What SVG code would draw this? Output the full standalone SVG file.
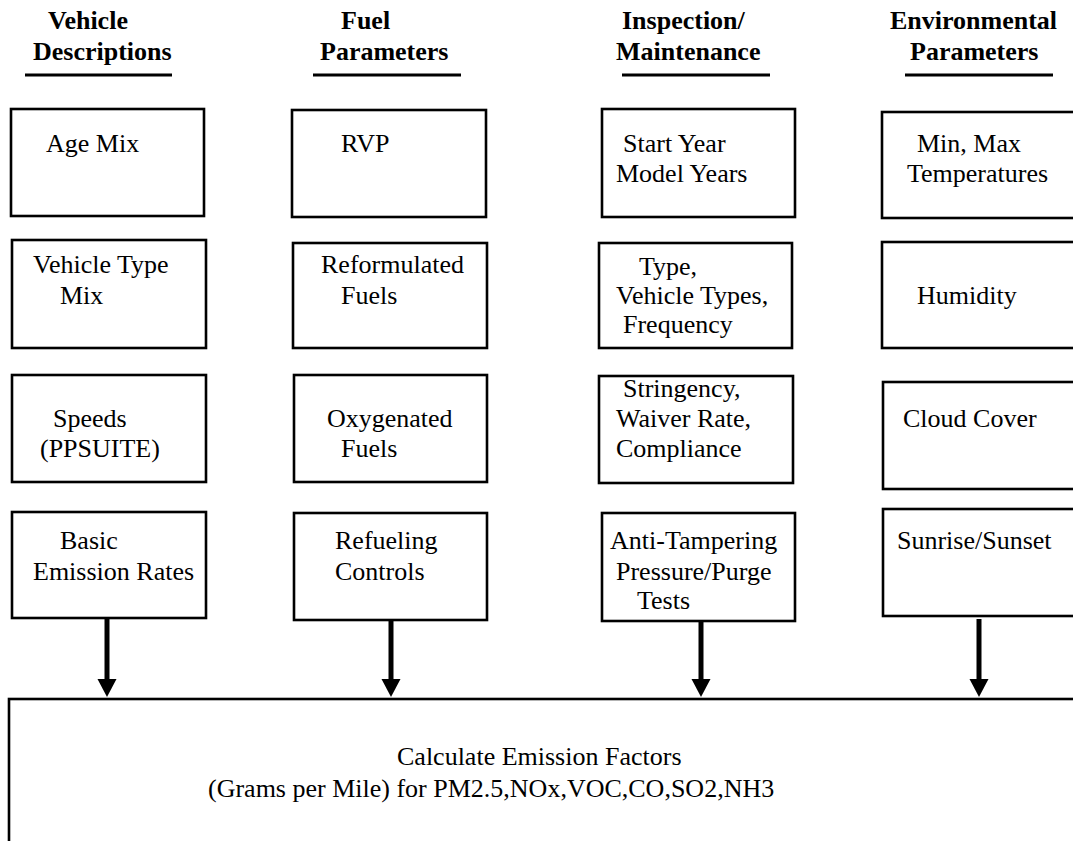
<svg xmlns="http://www.w3.org/2000/svg" width="1073" height="841" viewBox="0 0 1073 841">
<style>
text{font-family:"Liberation Serif","Times New Roman",serif;fill:#000}
.h{font-size:26px;font-weight:bold}
.t{font-size:26px}
.b{font-size:26px}
.box{fill:#fff;stroke:#000;stroke-width:2.6}
.ul{stroke:#000;stroke-width:3}
.arr{stroke:#000;stroke-width:5;fill:none}
</style>
<defs>
<marker id="ah" markerUnits="userSpaceOnUse" markerWidth="20" markerHeight="20" refX="0" refY="10" orient="auto" viewBox="0 0 20 20">
<path d="M0,0.5 L18,10 L0,19.5 z" fill="#000"/>
</marker>
</defs>
<rect width="1073" height="841" fill="#fff"/>

<g id="headers">
<text class="h" x="48" y="29">Vehicle</text>
<text class="h" x="33" y="60">Descriptions</text>
<line class="ul" x1="25" y1="75" x2="172" y2="75"/>
<text class="h" x="341" y="29">Fuel</text>
<text class="h" x="320" y="60">Parameters</text>
<line class="ul" x1="313" y1="75" x2="461" y2="75"/>
<text class="h" x="622" y="29">Inspection/</text>
<text class="h" x="616" y="60">Maintenance</text>
<line class="ul" x1="622" y1="75" x2="770" y2="75"/>
<text class="h" x="890" y="29">Environmental</text>
<text class="h" x="910" y="60">Parameters</text>
<line class="ul" x1="905" y1="75" x2="1053" y2="75"/>
</g>

<g id="age-mix"><rect class="box" x="11" y="109" width="193" height="107"/><text class="t" x="46" y="152">Age Mix</text></g>
<g id="rvp"><rect class="box" x="292" y="110" width="194" height="107"/><text class="t" x="341" y="152">RVP</text></g>
<g id="start-year"><rect class="box" x="602" y="109" width="193" height="108"/><text class="t" x="623" y="152">Start Year</text><text class="t" x="616" y="182">Model Years</text></g>
<g id="temperatures"><rect class="box" x="882" y="112" width="210" height="106"/><text class="t" x="917" y="152">Min, Max</text><text class="t" x="907" y="182">Temperatures</text></g>

<g id="vehicle-type-mix"><rect class="box" x="12" y="240" width="194" height="108"/><text class="t" x="33" y="273">Vehicle Type</text><text class="t" x="60" y="304">Mix</text></g>
<g id="reformulated-fuels"><rect class="box" x="293" y="243" width="194" height="105"/><text class="t" x="321" y="273">Reformulated</text><text class="t" x="341" y="304">Fuels</text></g>
<g id="im-type"><rect class="box" x="599" y="243" width="193" height="105"/><text class="t" x="639" y="275">Type,</text><text class="t" x="616" y="304">Vehicle Types,</text><text class="t" x="623" y="333">Frequency</text></g>
<g id="humidity"><rect class="box" x="882" y="242" width="210" height="106"/><text class="t" x="917" y="304">Humidity</text></g>

<g id="speeds"><rect class="box" x="12" y="375" width="194" height="107"/><text class="t" x="53" y="427">Speeds</text><text class="t" x="40" y="457">(PPSUITE)</text></g>
<g id="oxygenated-fuels"><rect class="box" x="294" y="375" width="193" height="107"/><text class="t" x="327" y="427">Oxygenated</text><text class="t" x="341" y="457">Fuels</text></g>
<g id="stringency"><rect class="box" x="599" y="376" width="194" height="107"/><text class="t" x="623" y="397">Stringency,</text><text class="t" x="616" y="427">Waiver Rate,</text><text class="t" x="616" y="457">Compliance</text></g>
<g id="cloud-cover"><rect class="box" x="883" y="382" width="210" height="107"/><text class="t" x="903" y="427">Cloud Cover</text></g>

<g id="basic-emission-rates"><rect class="box" x="12" y="512" width="194" height="106"/><text class="t" x="60" y="549">Basic</text><text class="t" x="33" y="580">Emission Rates</text></g>
<g id="refueling-controls"><rect class="box" x="294" y="513" width="193" height="107"/><text class="t" x="335" y="549">Refueling</text><text class="t" x="335" y="580">Controls</text></g>
<g id="anti-tampering"><rect class="box" x="602" y="513" width="193" height="108"/><text class="t" x="610" y="549">Anti-Tampering</text><text class="t" x="616" y="580">Pressure/Purge</text><text class="t" x="637" y="609">Tests</text></g>
<g id="sunrise-sunset"><rect class="box" x="883" y="509" width="210" height="107"/><text class="t" x="897" y="549">Sunrise/Sunset</text></g>

<g id="calculate"><rect class="box" x="9" y="699" width="1090" height="160"/>
<text class="b" x="397" y="765">Calculate Emission Factors</text>
<text class="b" x="208" y="797">(Grams per Mile) for PM2.5,NOx,VOC,CO,SO2,NH3</text></g>

<g id="connectors">
<line class="arr" x1="107" y1="617" x2="107" y2="679" marker-end="url(#ah)"/>
<line class="arr" x1="391" y1="620" x2="391" y2="679" marker-end="url(#ah)"/>
<line class="arr" x1="701" y1="621" x2="701" y2="679" marker-end="url(#ah)"/>
<line class="arr" x1="979" y1="619" x2="979" y2="679" marker-end="url(#ah)"/>
</g>
</svg>
